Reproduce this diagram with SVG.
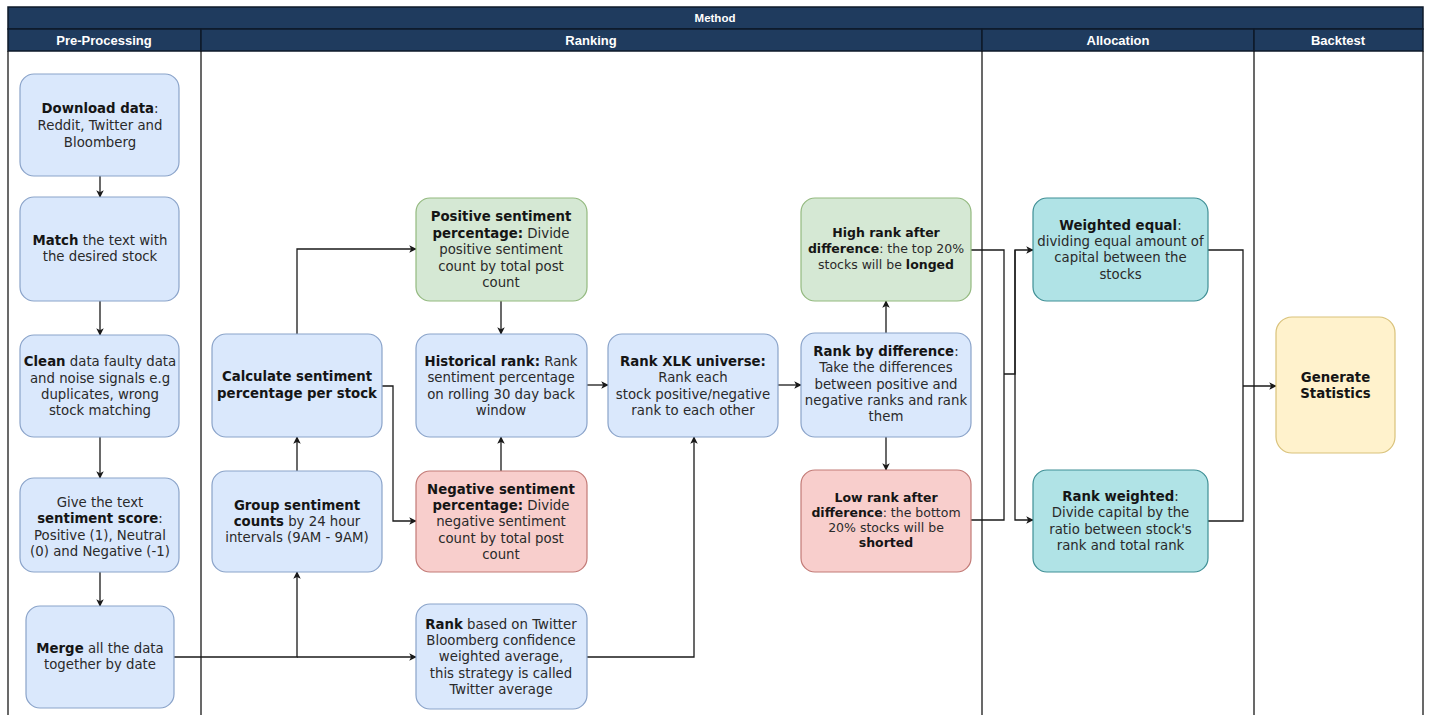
<svg xmlns="http://www.w3.org/2000/svg" width="1429" height="715" viewBox="0 0 1429 715">
<defs>
<style>
.hdr{fill:#1f3b5e;stroke:#0e1a2a;stroke-width:1.5}
.ht{font-family:"Liberation Sans Narrow","Liberation Sans",Arial,sans-serif;font-weight:bold;font-size:13px;fill:#fff;text-anchor:middle}
.ln{stroke:#1a1a1a;stroke-width:1.3;fill:none}
.b{stroke-width:1.2}
.blue{fill:#dae8fc;stroke:#8aa3c9}
.green{fill:#d5e8d4;stroke:#93b97f}
.red{fill:#f8cecc;stroke:#c27a76}
.teal{fill:#b0e3e6;stroke:#3f8f95}
.yel{fill:#fff2cc;stroke:#d9c27a}
.t{font-family:"DejaVu Sans",Verdana,sans-serif;font-size:13.3px;fill:#2a2a2a;text-anchor:middle}
.s{font-size:12.5px}
.k{font-weight:bold;fill:#151515}
.c{stroke:#1a1a1a;stroke-width:1.3;fill:none;marker-end:url(#ar)}
.c0{stroke:#1a1a1a;stroke-width:1.3;fill:none}
</style>
<marker id="ar" viewBox="0 0 10 10" refX="9" refY="5" markerWidth="7.5" markerHeight="7.5" markerUnits="userSpaceOnUse" orient="auto">
<path d="M0,0 L10,5 L0,10 L2.5,5 z" fill="#1a1a1a"/>
</marker>
</defs>
<rect width="1429" height="715" fill="#fff"/>
<g id="table">
<rect class="hdr" x="8" y="7" width="1415" height="22"/>
<rect class="hdr" x="8" y="29" width="193" height="22"/>
<rect class="hdr" x="201" y="29" width="781" height="22"/>
<rect class="hdr" x="982" y="29" width="272" height="22"/>
<rect class="hdr" x="1254" y="29" width="169" height="22"/>
<text class="ht" x="715" y="22" style="font-size:11.5px">Method</text>
<text class="ht" x="104" y="44.5">Pre-Processing</text>
<text class="ht" x="591" y="44.5">Ranking</text>
<text class="ht" x="1118" y="44.5">Allocation</text>
<text class="ht" x="1338" y="44.5">Backtest</text>
<path class="ln" d="M8,51 V715 M201,51 V715 M982,51 V715 M1254,51 V715 M1423,51 V715"/>
</g>
<g id="connectors">
<path class="c" d="M100,176 V197"/>
<path class="c" d="M100,301 V335"/>
<path class="c" d="M100,437 V478"/>
<path class="c" d="M100,572 V606"/>
<path class="c" d="M174,657 H297 V572"/>
<path class="c" d="M297,657 H416"/>
<path class="c" d="M297,471 V437"/>
<path class="c" d="M297,334 V249 H416"/>
<path class="c" d="M382,386 H393 V521 H416"/>
<path class="c" d="M501,301 V334"/>
<path class="c" d="M501,471 V437"/>
<path class="c" d="M587,385 H608"/>
<path class="c" d="M587,657 H694 V437"/>
<path class="c" d="M778,385 H801"/>
<path class="c" d="M886,333 V301"/>
<path class="c" d="M886,437 V470"/>
<path class="c0" d="M971,250 H1004 V520 H971 M1004,374 H1015 V250"/>
<path class="c" d="M1015,374 V250 H1033"/>
<path class="c" d="M1015,374 V520 H1033"/>
<path class="c0" d="M1208,250 H1243 V521 H1208"/>
<path class="c" d="M1243,386 H1276"/>
</g>
<g id="n-download">
<rect class="b blue" x="20" y="74" width="159" height="102" rx="14"/>
<text class="t" x="100" y="113"><tspan class="k">Download data</tspan>:</text>
<text class="t" x="100" y="130">Reddit, Twitter and</text>
<text class="t" x="100" y="146.5">Bloomberg</text>
</g>
<g id="n-match">
<rect class="b blue" x="20" y="197" width="159" height="104" rx="14"/>
<text class="t" x="100" y="244.5"><tspan class="k">Match</tspan> the text with</text>
<text class="t" x="100" y="261">the desired stock</text>
</g>
<g id="n-clean">
<rect class="b blue" x="20" y="335" width="159" height="102" rx="14"/>
<text class="t" x="100" y="366"><tspan class="k">Clean</tspan> data faulty data</text>
<text class="t" x="100" y="382.5">and noise signals e.g</text>
<text class="t" x="100" y="399">duplicates, wrong</text>
<text class="t" x="100" y="415">stock matching</text>
</g>
<g id="n-give">
<rect class="b blue" x="20" y="478" width="159" height="94" rx="14"/>
<text class="t" x="100" y="507"><tspan>Give the text</tspan></text>
<text class="t" x="100" y="523"><tspan class="k">sentiment score</tspan>:</text>
<text class="t" x="100" y="539.5">Positive (1), Neutral</text>
<text class="t" x="100" y="556">(0) and Negative (-1)</text>
</g>
<g id="n-merge">
<rect class="b blue" x="26" y="606" width="148" height="102" rx="14"/>
<text class="t" x="100" y="652.5"><tspan class="k">Merge</tspan> all the data</text>
<text class="t" x="100" y="668.5">together by date</text>
</g>
<g id="n-calc">
<rect class="b blue" x="212" y="334" width="170" height="103" rx="14"/>
<text class="t k" x="297" y="381">Calculate sentiment</text>
<text class="t k" x="297" y="397.5">percentage per stock</text>
</g>
<g id="n-group">
<rect class="b blue" x="212" y="471" width="170" height="101" rx="14"/>
<text class="t" x="297" y="509.5"><tspan class="k">Group sentiment</tspan></text>
<text class="t" x="297" y="525.5"><tspan class="k">counts</tspan> by 24 hour</text>
<text class="t" x="297" y="542">intervals (9AM - 9AM)</text>
</g>
<g id="n-positive">
<rect class="b green" x="416" y="198" width="171" height="103" rx="14"/>
<text class="t" x="501" y="221"><tspan class="k">Positive sentiment</tspan></text>
<text class="t" x="501" y="237.5"><tspan class="k">percentage:</tspan> Divide</text>
<text class="t" x="501" y="254">positive sentiment</text>
<text class="t" x="501" y="270.5">count by total post</text>
<text class="t" x="501" y="287">count</text>
</g>
<g id="n-historical">
<rect class="b blue" x="416" y="334" width="171" height="103" rx="14"/>
<text class="t" x="501" y="365.5"><tspan class="k">Historical rank:</tspan> Rank</text>
<text class="t" x="501" y="382">sentiment percentage</text>
<text class="t" x="501" y="398.5">on rolling 30 day back</text>
<text class="t" x="501" y="415">window</text>
</g>
<g id="n-negative">
<rect class="b red" x="416" y="471" width="171" height="101" rx="14"/>
<text class="t" x="501" y="493.5"><tspan class="k">Negative sentiment</tspan></text>
<text class="t" x="501" y="510"><tspan class="k">percentage:</tspan> Divide</text>
<text class="t" x="501" y="526">negative sentiment</text>
<text class="t" x="501" y="542.5">count by total post</text>
<text class="t" x="501" y="558.5">count</text>
</g>
<g id="n-twitteravg">
<rect class="b blue" x="416" y="604" width="171" height="105" rx="14"/>
<text class="t" x="501" y="628.5"><tspan class="k">Rank</tspan> based on Twitter</text>
<text class="t" x="501" y="644.5">Bloomberg confidence</text>
<text class="t" x="501" y="661">weighted average,</text>
<text class="t" x="501" y="677.5">this strategy is called</text>
<text class="t" x="501" y="694">Twitter average</text>
</g>
<g id="n-xlk">
<rect class="b blue" x="608" y="334" width="170" height="103" rx="14"/>
<text class="t" x="693" y="366"><tspan class="k">Rank XLK universe:</tspan></text>
<text class="t" x="693" y="382">Rank each</text>
<text class="t" x="693" y="398.5">stock positive/negative</text>
<text class="t" x="693" y="414.5">rank to each other</text>
</g>
<g id="n-rankdiff">
<rect class="b blue" x="801" y="333" width="170" height="104" rx="14"/>
<text class="t" x="886" y="356"><tspan class="k">Rank by difference</tspan>:</text>
<text class="t" x="886" y="372">Take the differences</text>
<text class="t" x="886" y="388.5">between positive and</text>
<text class="t" x="886" y="405">negative ranks and rank</text>
<text class="t" x="886" y="421">them</text>
</g>
<g id="n-high">
<rect class="b green" x="801" y="198" width="170" height="103" rx="14"/>
<text class="t s" x="886" y="237"><tspan class="k">High rank after</tspan></text>
<text class="t s" x="886" y="253"><tspan class="k">difference</tspan>: the top 20%</text>
<text class="t s" x="886" y="268.5">stocks will be <tspan class="k">longed</tspan></text>
</g>
<g id="n-low">
<rect class="b red" x="801" y="470" width="170" height="102" rx="14"/>
<text class="t s" x="886" y="502"><tspan class="k">Low rank after</tspan></text>
<text class="t s" x="886" y="517"><tspan class="k">difference</tspan>: the bottom</text>
<text class="t s" x="886" y="532">20% stocks will be</text>
<text class="t s" x="886" y="547"><tspan class="k">shorted</tspan></text>
</g>
<g id="n-weq">
<rect class="b teal" x="1033" y="198" width="175" height="103" rx="14"/>
<text class="t" x="1120.5" y="229.5"><tspan class="k">Weighted equal</tspan>:</text>
<text class="t" x="1120.5" y="246">dividing equal amount of</text>
<text class="t" x="1120.5" y="262">capital between the</text>
<text class="t" x="1120.5" y="278.5">stocks</text>
</g>
<g id="n-rw">
<rect class="b teal" x="1033" y="470" width="175" height="102" rx="14"/>
<text class="t" x="1120.5" y="500.5"><tspan class="k">Rank weighted</tspan>:</text>
<text class="t" x="1120.5" y="517">Divide capital by the</text>
<text class="t" x="1120.5" y="533.5">ratio between stock's</text>
<text class="t" x="1120.5" y="550">rank and total rank</text>
</g>
<g id="n-gen">
<rect class="b yel" x="1276" y="317" width="119" height="136" rx="16"/>
<text class="t k" x="1335.5" y="382">Generate</text>
<text class="t k" x="1335.5" y="398">Statistics</text>
</g>
</svg>
